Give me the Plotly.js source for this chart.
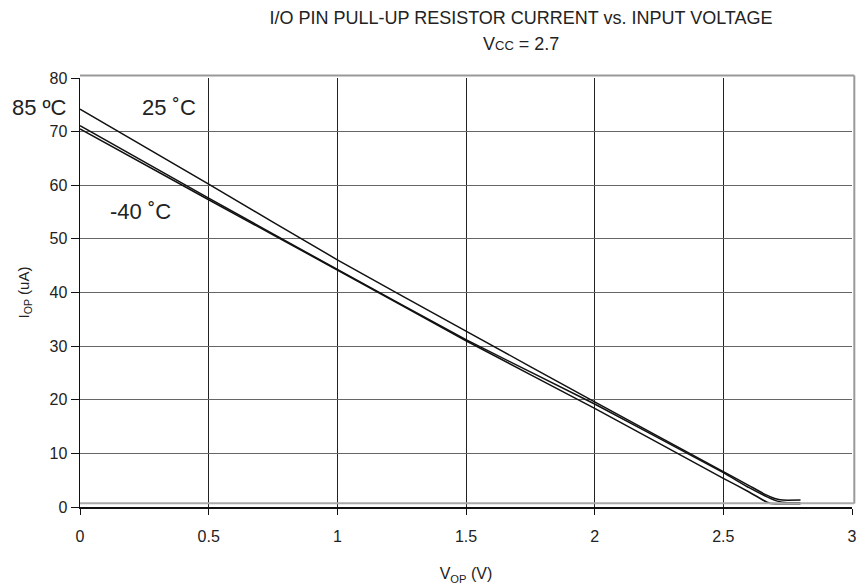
<!DOCTYPE html>
<html>
<head>
<meta charset="utf-8">
<script src="https://cdn.plot.ly/plotly-3.0.1.min.js"></script>
<style>html,body{margin:0;padding:0;background:#fff;}#chart{width:862px;height:588px;}</style>
</head>
<body>
<div id="chart"></div>
<script>
// Series data (V_OP in volts, I_OP in uA)
const seriesNames = ["25 ˚C", "85 ºC", "-40 ˚C"];
const vop25 = [0, 0.5, 1, 1.5, 2, 2.5, 2.6, 2.66, 2.7, 2.73, 2.8];
const iop25 = [74.2, 60.2, 46.1, 32.8, 19.6, 6.6, 4.0, 2.4, 1.6, 1.3, 1.3];
const vop85 = [0, 0.5, 1, 1.5, 2, 2.5, 2.6, 2.67, 2.71, 2.75, 2.8];
const iop85 = [71.1, 57.6, 44.3, 31.2, 19.2, 6.4, 3.6, 1.9, 1.1, 0.8, 0.8];
const vopM40 = [0, 0.5, 1, 1.5, 2, 2.5, 2.6, 2.65, 2.68, 2.72, 2.8];
const iopM40 = [70.5, 57.3, 44.2, 31.0, 18.4, 5.35, 2.8, 1.4, 0.7, 0.6, 0.6];
const xTicks = [0, 0.5, 1, 1.5, 2, 2.5, 3];
const xTickText = ["0", "0.5", "1", "1.5", "2", "2.5", "3"];
const yTicks = [0, 10, 20, 30, 40, 50, 60, 70, 80];

const lineStyle = {color: "#111", width: 1.5, shape: "spline", smoothing: 0.4};
const traces = [
  {x: vop25, y: iop25, name: seriesNames[0], mode: "lines", line: lineStyle},
  {x: vop85, y: iop85, name: seriesNames[1], mode: "lines", line: lineStyle},
  {x: vopM40, y: iopM40, name: seriesNames[2], mode: "lines", line: lineStyle}
];

const font = {family: "Liberation Sans, Arial, sans-serif", color: "#222"};
const f = s => Object.assign({size: s}, font);
const layout = {
  width: 862, height: 588,
  margin: {l: 80, r: 10, t: 78, b: 81},
  paper_bgcolor: "#fff", plot_bgcolor: "#fff",
  showlegend: false,
  font: f(16),
  title: {
    text: "I/O PIN PULL-UP RESISTOR CURRENT vs. INPUT VOLTAGE",
    font: f(18),
    x: 521 / 862, xanchor: "center", xref: "container",
    y: 1 - 18 / 588, yanchor: "middle", yref: "container"
  },
  xaxis: {
    range: [0, 3], tickvals: xTicks, ticktext: xTickText,
    showgrid: true, gridcolor: "#222", gridwidth: 1,
    zeroline: false, showline: true, linecolor: "#111", linewidth: 1.5,
    ticks: "outside", ticklen: 6, tickcolor: "#111", tickwidth: 1,
    ticklabelstandoff: 8,
    tickfont: f(16),
    title: {text: "V<sub>OP</sub> (V)", font: f(16), standoff: 24},
    fixedrange: true
  },
  yaxis: {
    range: [0, 80], tickvals: yTicks,
    showgrid: true, gridcolor: "#666", gridwidth: 1.2,
    zeroline: false, showline: true, linecolor: "#111", linewidth: 1.5,
    ticks: "outside", ticklen: 8, tickcolor: "#111", tickwidth: 1,
    tickfont: f(16),
    title: {text: "I<sub>OP</sub> (uA)", font: f(15), standoff: 16},
    fixedrange: true
  },
  shapes: [
    {type: "line", xref: "paper", yref: "paper", x0: 0, x1: 1.003, y0: 1.006, y1: 1.006, line: {color: "#999", width: 2}},
    {type: "line", xref: "paper", yref: "paper", x0: 1.003, x1: 1.003, y0: 0.008, y1: 1.006, line: {color: "#999", width: 2}},
    {type: "line", xref: "paper", yref: "paper", x0: 0, x1: 1.003, y0: 0.009, y1: 0.009, line: {color: "#aaa", width: 2}}
  ],
  annotations: [
    {text: "V<span style='font-size:13px'>CC</span> = 2.7", xref: "paper", yref: "paper", x: (521 - 80) / 772, y: 1 + (78 - 44) / 429,
     xanchor: "center", yanchor: "middle", showarrow: false, font: f(18)},
    {text: seriesNames[1], xref: "paper", yref: "paper", x: -0.0525, y: 0.932, xanchor: "center", yanchor: "middle",
     showarrow: false, font: f(22)},
    {text: seriesNames[0], xref: "paper", yref: "paper", x: 0.115, y: 0.932, xanchor: "center", yanchor: "middle",
     showarrow: false, font: f(22)},
    {text: seriesNames[2], xref: "paper", yref: "paper", x: 0.078, y: 0.688, xanchor: "center", yanchor: "middle",
     showarrow: false, font: f(22)}
  ]
};

Plotly.newPlot("chart", traces, layout, {displayModeBar: false, staticPlot: true});
</script>
</body>
</html>
